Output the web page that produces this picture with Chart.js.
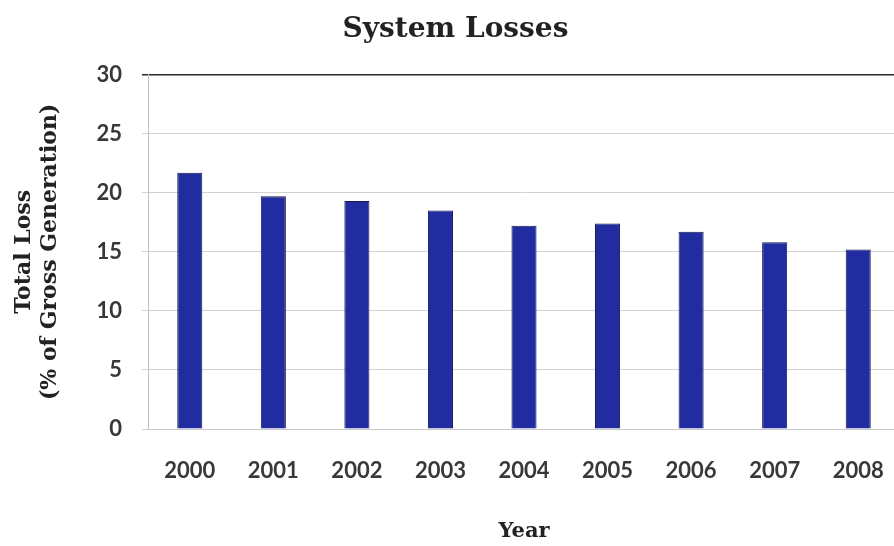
<!DOCTYPE html>
<html>
<head>
<meta charset="utf-8">
<script src="https://cdn.jsdelivr.net/npm/chart.js@4.4.1/dist/chart.umd.min.js"></script>
<style>
  html, body { margin: 0; padding: 0; background: #ffffff; overflow: hidden; }
  #wrap { width: 902px; height: 546px; position: relative; }
</style>
</head>
<body>
<div id="wrap"><canvas id="c"></canvas></div>
<script>
const years = ["2000", "2001", "2002", "2003", "2004", "2005", "2006", "2007", "2008"];
const totalLoss = [21.7, 19.7, 19.3, 18.5, 17.2, 17.4, 16.7, 15.8, 15.2];
const yTicks = [0, 5, 10, 15, 20, 25, 30];

const tickFont = { family: "Lato", weight: "bold", size: 22 };

new Chart(document.getElementById("c"), {
  type: "bar",
  data: {
    labels: years,
    datasets: [{
      label: "Total Loss",
      data: totalLoss,
      backgroundColor: "#202ca0",
      borderColor: "#151a4e",
      borderWidth: 1,
      barPercentage: 0.3,
      categoryPercentage: 1.0
    }]
  },
  options: {
    responsive: true,
    maintainAspectRatio: false,
    animation: false,
    layout: { padding: { left: 11, right: 2, top: 0, bottom: 0 } },
    plugins: {
      legend: { display: false },
      tooltip: { enabled: false },
      title: {
        display: true,
        text: "System Losses",
        color: "#222222",
        font: { family: "DejaVu Serif", weight: "bold", size: 28, lineHeight: 1.2 },
        padding: { top: 13, bottom: 28 }
      }
    },
    scales: {
      x: {
        grid: {
          display: true,
          drawOnChartArea: false,
          drawTicks: true,
          tickLength: 29,
          tickColor: "rgba(0,0,0,0)"
        },
        border: { display: true, color: "#c8c8c8", width: 1 },
        ticks: { color: "#383838", font: tickFont, padding: 0, maxRotation: 0 },
        title: {
          display: true,
          text: "Year",
          color: "#222222",
          font: { family: "DejaVu Serif", weight: "bold", size: 21, lineHeight: 1.2 },
          padding: { top: 0, bottom: 2 }
        },
        afterFit: (s) => { s.height = 117; }
      },
      y: {
        min: 0,
        max: 30,
        afterBuildTicks: (s) => { s.ticks = yTicks.map(v => ({ value: v })); },
        grid: {
          color: (ctx) => (ctx.tick && ctx.tick.value === 30) ? "#2a2a2a" : "#d2d2d2",
          lineWidth: (ctx) => (ctx.tick && ctx.tick.value === 30) ? 1.5 : 1,
          tickLength: 6,
          drawTicks: true
        },
        border: { display: true, color: "#c0c0c0", width: 1 },
        ticks: { color: "#383838", font: tickFont, padding: 20 },
        title: {
          display: true,
          text: ["Total Loss", "(% of Gross Generation)"],
          color: "#222222",
          font: { family: "DejaVu Serif", weight: "bold", size: 22, lineHeight: 1.15 },
          padding: { top: 1, bottom: 0 }
        },
        afterFit: (s) => { s.width = 137; }
      }
    }
  }
});
</script>
</body>
</html>
